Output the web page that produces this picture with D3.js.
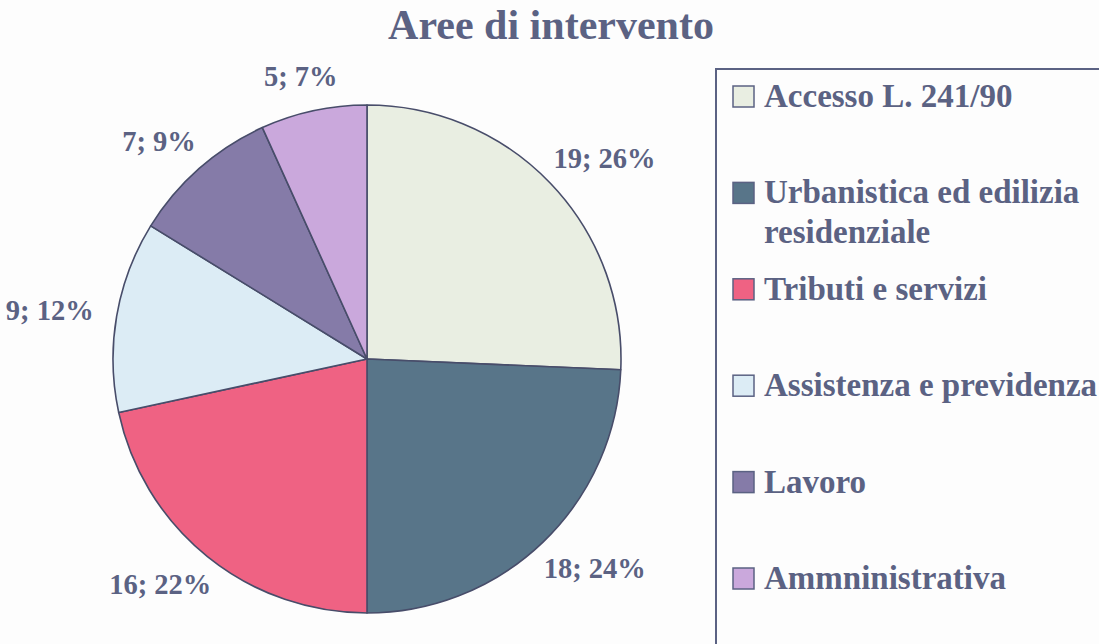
<!DOCTYPE html>
<html lang="it">
<head>
  <meta charset="UTF-8">
  <title>Aree di intervento</title>
  <style>
    body { margin: 0; background: #fdfdfd; overflow: hidden; }
    text { font-family: "Liberation Serif", "Times New Roman", serif; font-weight: bold; fill: #5b6283; }
  </style>
</head>
<body>
  <script src="https://d3js.org/d3.v7.min.js"></script>
  <script>
    // dati
    const categories = ["Accesso L. 241/90", "Urbanistica ed edilizia residenziale", "Tributi e servizi",
                        "Assistenza e previdenza", "Lavoro", "Ammninistrativa"];
    const legendLines = [["Accesso L. 241/90"], ["Urbanistica ed edilizia", "residenziale"], ["Tributi e servizi"],
                         ["Assistenza e previdenza"], ["Lavoro"], ["Ammninistrativa"]];
    const counts = [19, 18, 16, 9, 7, 5];
    const percents = [26, 24, 22, 12, 9, 7];
    const colors = ["#e9eee2", "#587589", "#ef6283", "#dcecf5", "#857ba8", "#caa8dc"];

    const width = 1099, height = 644;
    const cx = 367, cy = 359, r = 254;

    const svg = d3.select("body").append("svg").attr("width", width).attr("height", height);

    svg.append("text")
      .attr("x", 551).attr("y", 39)
      .attr("text-anchor", "middle")
      .attr("font-size", "42px")
      .text("Aree di intervento");

    const color = d3.scaleOrdinal().domain(categories).range(colors);
    const pie = d3.pie().sort(null).value(d => d.value);
    const arcs = pie(categories.map((c, i) => ({ name: c, value: counts[i], pct: percents[i] })));
    const arc = d3.arc().innerRadius(0).outerRadius(r);

    const g = svg.append("g").attr("transform", `translate(${cx},${cy})`);

    g.selectAll("path").data(arcs).enter().append("path")
      .attr("d", arc)
      .attr("fill", d => color(d.data.name))
      .attr("stroke", "#484d6a")
      .attr("stroke-width", 1.6)
      .attr("stroke-linejoin", "round");

    // etichette fuori dalla torta, posizionate come in Excel
    const labelSize = 28.5, gap = 24;
    const labels = g.selectAll("text.lbl").data(arcs).enter().append("text")
      .attr("class", "lbl")
      .attr("font-size", labelSize + "px")
      .attr("text-anchor", "middle")
      .text(d => `${d.data.value}; ${d.data.pct}%`);

    labels.each(function (d) {
      const a = (d.startAngle + d.endAngle) / 2;
      const dx = Math.sin(a), dy = -Math.cos(a);
      const w = this.getComputedTextLength();
      const h = labelSize * 0.8;
      const x = (r + gap) * dx + dx * w / 2;
      const y = (r + gap) * dy + dy * h / 2;
      d3.select(this).attr("x", x).attr("y", y + labelSize * 0.34);
    });

    // legenda
    const legendX = 716, legendY = 69;
    svg.append("rect")
      .attr("x", legendX).attr("y", legendY)
      .attr("width", 500).attr("height", 700)
      .attr("fill", "none")
      .attr("stroke", "#5b6283")
      .attr("stroke-width", 2);

    const rowY = d3.scalePoint().domain(categories).range([107, 589]);
    const legend = svg.append("g").selectAll("g").data(categories).enter().append("g")
      .attr("transform", d => `translate(${legendX + 17},${rowY(d)})`);

    legend.append("rect")
      .attr("x", 0).attr("y", -21)
      .attr("width", 21).attr("height", 21)
      .attr("fill", d => color(d))
      .attr("stroke", "#5b6283")
      .attr("stroke-width", 1.5);

    legend.append("text")
      .attr("x", 31).attr("y", 0)
      .attr("font-size", "33px")
      .selectAll("tspan").data((d, i) => legendLines[i]).enter().append("tspan")
      .attr("x", 31)
      .attr("dy", (d, i) => i === 0 ? 0 : 40)
      .text(d => d);
  </script>
</body>
</html>
